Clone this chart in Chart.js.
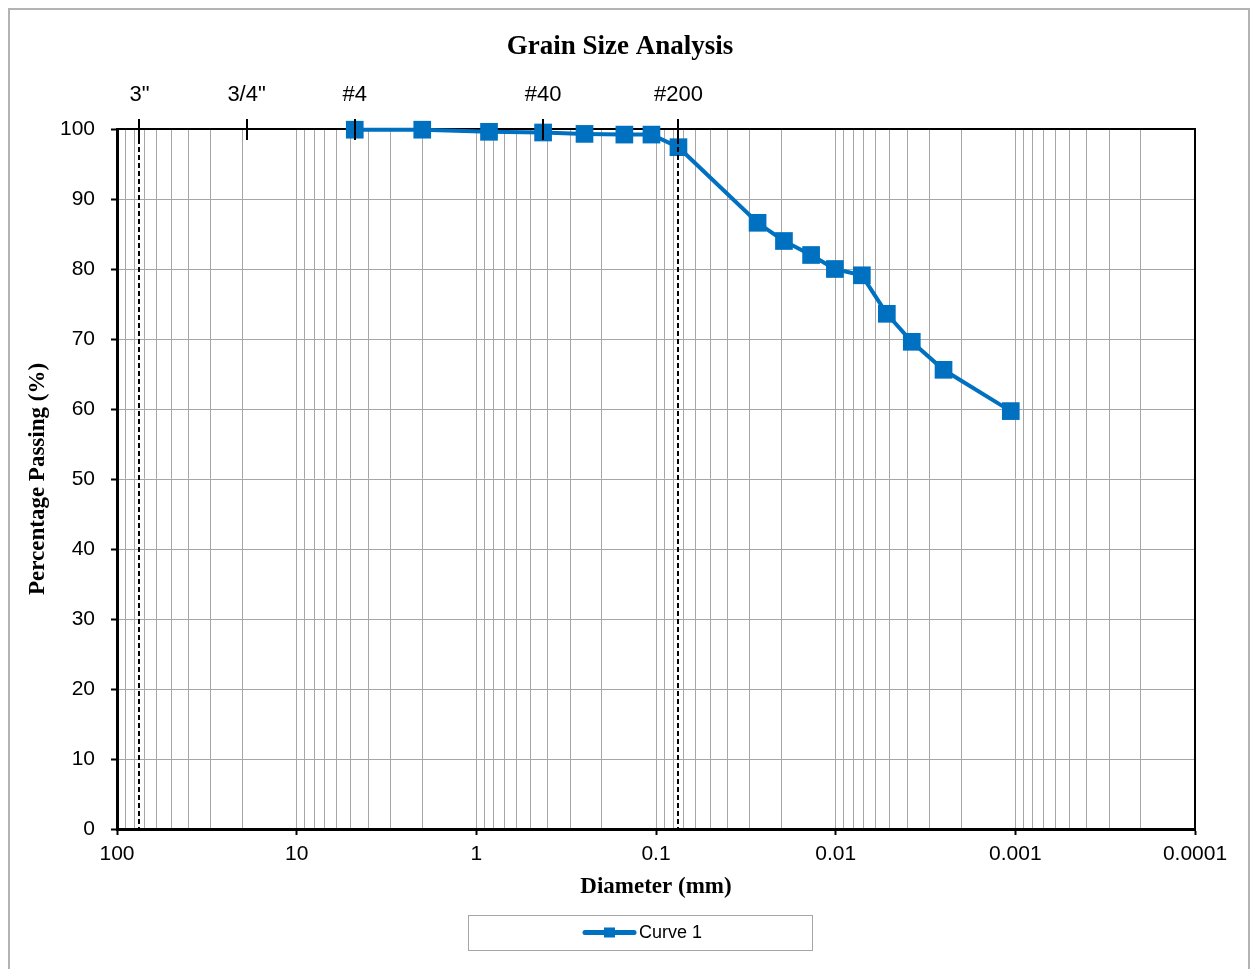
<!DOCTYPE html>
<html><head><meta charset="utf-8">
<script src="https://cdn.jsdelivr.net/npm/chart.js@4.4.1/dist/chart.umd.min.js"></script>
<style>html,body{margin:0;padding:0;background:#fff}#wrap{position:relative;width:1252px;height:969px}canvas{display:block}</style>
</head><body><div id="wrap"><canvas id="c" width="1252" height="969"></canvas></div>
<script>
// ---- data ----
const diameters = [4.75, 2.0, 0.85, 0.425, 0.25, 0.15, 0.106, 0.075, 0.0272, 0.0194, 0.0137, 0.0101, 0.00715, 0.00519, 0.00377, 0.00251, 0.00106];
const passing   = [99.9, 99.9, 99.6, 99.5, 99.3, 99.2, 99.2, 97.4, 86.6, 84.0, 82.0, 80.0, 79.1, 73.6, 69.6, 65.6, 59.7];
const sieveSizes  = [75, 19, 4.75, 0.425, 0.075];
const sieveLabels = ['3"', '3/4"', '#4', '#40', '#200'];
const dashedSizes = [75, 0.075];
const xDecades = [100, 10, 1, 0.1, 0.01, 0.001, 0.0001];
const xDecadeLabels = ['100', '10', '1', '0.1', '0.01', '0.001', '0.0001'];
const yMin = 0, yMax = 100, yStep = 10;
const seriesName = 'Curve 1';
const chartTitle = 'Grain Size Analysis';
const xTitle = 'Diameter (mm)';
const yTitle = 'Percentage Passing (%)';

// gridline ticks: 1..9 x each decade, plus decade labels
const gridTicks = [];
xDecades.slice().sort((a,b)=>a-b).forEach((d, i, arr) => {
  gridTicks.push({value: d, label: xDecadeLabels[xDecades.indexOf(d)], major: true});
  if (i < arr.length - 1) {
    for (let k = 2; k <= 9; k++) gridTicks.push({value: k * d, label: '', major: false});
  }
});

const BLUE = '#0070C0';
const GRID = '#a6a6a6';
const SANS = "'Liberation Sans', Arial, sans-serif";
const SERIF = "'Liberation Serif', 'Times New Roman', serif";

const decor = {
  id: 'decor',
  beforeDraw(chart) {
    const ctx = chart.ctx;
    ctx.save();
    ctx.fillStyle = '#fff';
    ctx.fillRect(0, 0, chart.width, chart.height);
    ctx.strokeStyle = '#b3b3b3';
    ctx.lineWidth = 2;
    ctx.strokeRect(9, 9, chart.width - 12, chart.height + 20);
    ctx.restore();
  },
  afterDatasetsDraw(chart) {
    const ctx = chart.ctx;
    const xs = chart.scales.x;
    const area = chart.chartArea;
    ctx.save();
    // right frame
    ctx.strokeStyle = '#000';
    ctx.lineWidth = 2;
    ctx.beginPath();
    ctx.moveTo(area.right, area.top - 1);
    ctx.lineTo(area.right, area.bottom + 1);
    ctx.stroke();
    // dashed reference lines
    ctx.setLineDash([5, 3]);
    ctx.lineWidth = 2;
    dashedSizes.forEach(v => {
      const px = Math.round(xs.getPixelForValue(v));
      ctx.beginPath();
      ctx.moveTo(px, area.top + 2);
      ctx.lineTo(px, area.bottom);
      ctx.stroke();
    });
    ctx.setLineDash([]);
    // sieve crosses on top axis
    sieveSizes.forEach(v => {
      const px = Math.round(xs.getPixelForValue(v));
      ctx.beginPath();
      ctx.moveTo(px, area.top - 10);
      ctx.lineTo(px, area.top + 11);
      ctx.stroke();
    });
    ctx.restore();
  },
  afterDraw(chart) {
    const ctx = chart.ctx;
    ctx.save();
    // title
    ctx.fillStyle = '#000';
    ctx.font = 'bold 27px ' + SERIF;
    ctx.textAlign = 'center';
    ctx.textBaseline = 'middle';
    ctx.fillText(chartTitle, 620, 47);
    // legend box
    ctx.strokeStyle = '#a6a6a6';
    ctx.lineWidth = 1;
    ctx.strokeRect(468.5, 915.5, 344, 35);
    ctx.strokeStyle = BLUE;
    ctx.lineWidth = 5;
    ctx.lineCap = 'round';
    ctx.beginPath();
    ctx.moveTo(585, 932.5);
    ctx.lineTo(634, 932.5);
    ctx.stroke();
    ctx.fillStyle = BLUE;
    ctx.fillRect(604, 927.5, 11, 10);
    ctx.fillStyle = '#000';
    ctx.font = '18px ' + SANS;
    ctx.textAlign = 'left';
    ctx.fillText(seriesName, 639, 933);
    ctx.restore();
  }
};

new Chart(document.getElementById('c'), {
  type: 'line',
  data: {
    datasets: [{
      label: seriesName,
      data: diameters.map((d, i) => ({x: d, y: passing[i]})),
      borderColor: BLUE,
      backgroundColor: BLUE,
      borderWidth: 4,
      pointStyle: 'rect',
      pointRadius: 12.5,
      pointHoverRadius: 12.5,
      pointBackgroundColor: BLUE,
      pointBorderWidth: 0,
      tension: 0,
      clip: false,
      xAxisID: 'x',
      yAxisID: 'y'
    }]
  },
  options: {
    responsive: false,
    animation: false,
    devicePixelRatio: 1,
    layout: {padding: {left: 0, right: 57, top: 0, bottom: 0}},
    plugins: {legend: {display: false}, title: {display: false}, tooltip: {enabled: false}},
    scales: {
      x: {
        type: 'logarithmic',
        position: 'bottom',
        reverse: true,
        min: 0.0001,
        max: 100,
        afterBuildTicks: s => { s.ticks = gridTicks.map(t => ({value: t.value, major: t.major, label: t.label})); },
        afterFit: s => { s.height = 140; },
        ticks: {
          autoSkip: false, maxRotation: 0, minRotation: 0, padding: 7,
          color: '#000', font: {family: SANS, size: 21},
          callback: (v, i) => gridTicks[i] ? gridTicks[i].label : ''
        },
        grid: {
          color: GRID, lineWidth: 1, drawTicks: true, tickLength: 6, tickWidth: 2,
          tickColor: c => (c.tick && gridTicks[c.index] && gridTicks[c.index].major) ? '#000' : 'rgba(0,0,0,0)'
        },
        border: {display: true, color: '#000', width: 3},
        title: {display: true, text: xTitle, color: '#000', font: {family: SERIF, size: 23, weight: 'bold'}, padding: {top: 0, bottom: 68}}
      },
      xTop: {
        type: 'logarithmic',
        position: 'top',
        reverse: true,
        min: 0.0001,
        max: 100,
        afterBuildTicks: s => { s.ticks = sieveSizes.map(v => ({value: v})); },
        afterFit: s => { s.height = 129; },
        ticks: {
          autoSkip: false, maxRotation: 0, minRotation: 0, padding: 21,
          color: '#000', font: {family: SANS, size: 22},
          callback: (v, i) => sieveLabels[i]
        },
        grid: {display: true, drawOnChartArea: false, drawTicks: false},
        border: {display: true, color: '#000', width: 2}
      },
      y: {
        type: 'linear',
        position: 'left',
        min: yMin,
        max: yMax,
        afterFit: s => { s.width = 117; },
        ticks: {stepSize: yStep, padding: 16, color: '#000', font: {family: SANS, size: 21}},
        grid: {color: GRID, lineWidth: 1, drawTicks: true, tickLength: 6, tickWidth: 2, tickColor: '#000'},
        border: {display: true, color: '#000', width: 3},
        title: {display: true, text: yTitle, color: '#000', font: {family: SERIF, size: 23, weight: 'bold'}, padding: {top: 24, bottom: 0}}
      }
    }
  },
  plugins: [decor]
});
</script>
</body></html>
